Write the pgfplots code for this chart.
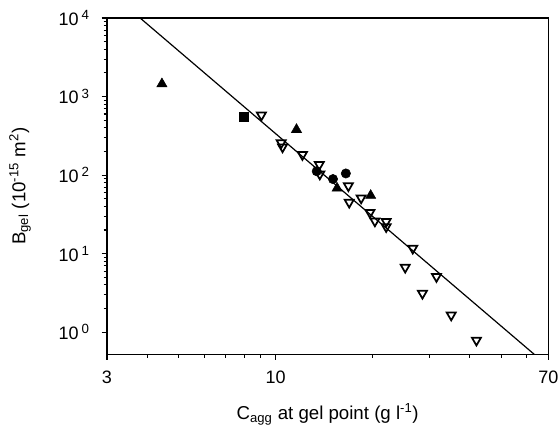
\documentclass[border=0pt]{standalone}
\usepackage{fontspec}
\setmainfont{Liberation Sans}
\usepackage{pgfplots}
\pgfplotsset{compat=1.18}
\newcommand{\tsup}[1]{\,\raisebox{0.6ex}{\fontsize{10}{11}\selectfont #1}}
\begin{document}
\begin{tikzpicture}
\useasboundingbox (-80.25pt,-52.9pt) rectangle (339.75pt,265.9pt);
\begin{axis}[
  at={(0,0)}, anchor=south west,
  scale only axis, width=331pt, height=252.4pt,
  xmode=log, ymode=log,
  xmin=3, xmax=70, ymin=0.52, ymax=10000,
  xtick={3,10,70}, xticklabels={3,10,70},
  minor xtick={4,5,6,7,8,9,20,30,40,50,60},
  ytick={1,10,100,1000,10000},
  yticklabels={10\tsup{0},10\tsup{1},10\tsup{2},10\tsup{3},10\tsup{4}},
  tick align=outside, xtick pos=bottom, ytick pos=left,
  major tick length=4pt, minor tick length=2.5pt,
  tick style={black, line width=0.8pt},
  axis line style={line width=1.1pt},
  ticklabel style={font=\fontsize{13.5}{15}\selectfont},
  xticklabel style={yshift=-5pt},
  yticklabel style={xshift=-6pt},
  every axis x label/.style={at={(axis description cs:0.5,-0.177)}, anchor=center},
  every axis y label/.style={at={(axis description cs:-0.197,0.5)}, rotate=90, anchor=center},
  label style={font=\fontsize{14}{16}\selectfont},
  xlabel={C\textsubscript{agg} at gel point (g l\textsuperscript{-1})},
  ylabel={B\textsubscript{gel} (10\textsuperscript{-15} m\textsuperscript{2})},
  clip=false,
]
\addplot[black, line width=0.9pt, no markers] coordinates {(3.80,10000) (63.4,0.52)};
% open down-pointing triangles
\addplot[only marks, mark=triangle, mark size=3.9pt, mark options={rotate=180, line width=1.3pt, fill=white, draw=black}] coordinates {
(9.03,580) (10.4,257) (10.5,228) (12.1,182) (13.65,136) (13.7,103)
(16.8,73) (16.9,45) (18.4,51) (19.6,33.4) (20.3,26) (22.0,25.6) (22.0,22)
(26.6,11.7) (25.2,6.7) (31.5,5.1) (28.5,3.12) (35.0,1.65) (41.9,0.79)};
% filled triangles
\addplot[only marks, mark=triangle*, mark size=4.4pt, mark options={fill=black, draw=black}] coordinates {
(4.44,1450) (11.6,380) (15.5,68) (19.7,55)};
% filled squares
\addplot[only marks, mark=square*, mark size=3.4pt, mark options={fill=black, draw=black}] coordinates {
(7.97,560)};
% filled circles
\addplot[only marks, mark=*, mark size=3.5pt, mark options={fill=black, draw=black}] coordinates {
(13.4,112) (15.05,89) (16.5,105)};
\end{axis}
\end{tikzpicture}
\end{document}
